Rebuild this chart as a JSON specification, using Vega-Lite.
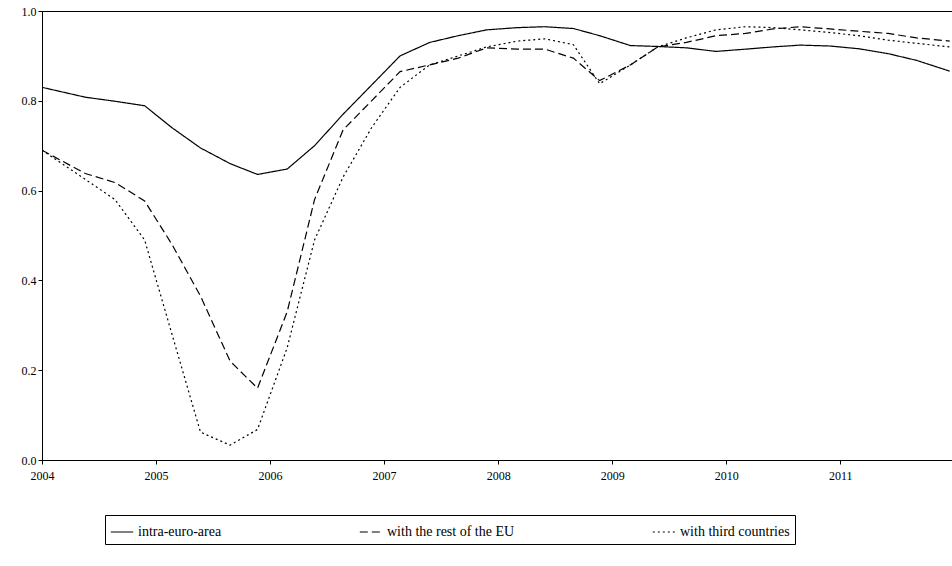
{
  "$schema": "https://vega.github.io/schema/vega-lite/v6.json",
  "width": 910,
  "height": 449,
  "autosize": {"type": "none"},
  "padding": {"left": 42, "top": 11, "right": 0, "bottom": 106},
  "config": {
    "font": "Liberation Serif",
    "view": {"stroke": "black", "strokeWidth": 1},
    "axis": {"labelFont": "Liberation Serif", "labelFontSize": 12, "labelColor": "black", "domainColor": "black", "tickColor": "black", "grid": false, "title": null, "labelFlush": false}
  },
  "datasets": {
    "raw": [
      {"t": 2004.0, "a": 0.83, "b": 0.69, "c": 0.69},
      {"t": 2004.38, "a": 0.808, "b": 0.638, "c": 0.625},
      {"t": 2004.64, "a": 0.799, "b": 0.618, "c": 0.58},
      {"t": 2004.9, "a": 0.789, "b": 0.577, "c": 0.49},
      {"t": 2005.14, "a": 0.74, "b": 0.48, "c": 0.28},
      {"t": 2005.39, "a": 0.695, "b": 0.365, "c": 0.062},
      {"t": 2005.65, "a": 0.66, "b": 0.22, "c": 0.033},
      {"t": 2005.89, "a": 0.636, "b": 0.16, "c": 0.068},
      {"t": 2006.15, "a": 0.648, "b": 0.33, "c": 0.25},
      {"t": 2006.39, "a": 0.70, "b": 0.58, "c": 0.49},
      {"t": 2006.64, "a": 0.77, "b": 0.735, "c": 0.63},
      {"t": 2006.89, "a": 0.835, "b": 0.80, "c": 0.74},
      {"t": 2007.14, "a": 0.90, "b": 0.865, "c": 0.83},
      {"t": 2007.4, "a": 0.93, "b": 0.88, "c": 0.88},
      {"t": 2007.65, "a": 0.945, "b": 0.895, "c": 0.90},
      {"t": 2007.9, "a": 0.958, "b": 0.918, "c": 0.92},
      {"t": 2008.17, "a": 0.963, "b": 0.915, "c": 0.933},
      {"t": 2008.41, "a": 0.965, "b": 0.915, "c": 0.938},
      {"t": 2008.66, "a": 0.961, "b": 0.895, "c": 0.925},
      {"t": 2008.89, "a": 0.945, "b": 0.845, "c": 0.838},
      {"t": 2009.16, "a": 0.923, "b": 0.88, "c": 0.88},
      {"t": 2009.4, "a": 0.921, "b": 0.92, "c": 0.92},
      {"t": 2009.65, "a": 0.918, "b": 0.93, "c": 0.94},
      {"t": 2009.91, "a": 0.91, "b": 0.945, "c": 0.958},
      {"t": 2010.17, "a": 0.915, "b": 0.95, "c": 0.965},
      {"t": 2010.41, "a": 0.92, "b": 0.96, "c": 0.963},
      {"t": 2010.65, "a": 0.924, "b": 0.965, "c": 0.958},
      {"t": 2010.91, "a": 0.922, "b": 0.96, "c": 0.952},
      {"t": 2011.16, "a": 0.916, "b": 0.955, "c": 0.945},
      {"t": 2011.42, "a": 0.905, "b": 0.95, "c": 0.935},
      {"t": 2011.67, "a": 0.89, "b": 0.94, "c": 0.928},
      {"t": 2011.96, "a": 0.866, "b": 0.933, "c": 0.92}
    ]
  },
  "data": {"name": "raw"},
  "transform": [
    {"fold": ["a", "b", "c"], "as": ["key", "value"]},
    {"lookup": "key", "from": {"data": {"values": [
      {"key": "a", "series": "intra-euro-area"},
      {"key": "b", "series": "with the rest of the EU"},
      {"key": "c", "series": "with third countries"}
    ]}, "key": "key", "fields": ["series"]}}
  ],
  "mark": {"type": "line", "color": "black", "strokeWidth": 1.2, "clip": true},
  "encoding": {
    "x": {"field": "t", "type": "quantitative", "scale": {"domain": [2004, 2011.98], "nice": false, "zero": false},
      "axis": {"values": [2004, 2005, 2006, 2007, 2008, 2009, 2010, 2011], "format": "d", "tickSize": 4, "labelPadding": 6}},
    "y": {"field": "value", "type": "quantitative", "scale": {"domain": [0, 1], "nice": false},
      "axis": {"values": [0, 0.2, 0.4, 0.6, 0.8, 1.0], "format": ".1f", "tickSize": 4}},
    "strokeDash": {"field": "series", "type": "nominal",
      "scale": {"domain": ["intra-euro-area", "with the rest of the EU", "with third countries"], "range": [[1, 0], [8, 4], [2, 3]]},
      "legend": {"title": null, "orient": "none", "legendX": 63, "legendY": 504, "direction": "horizontal", "columns": 3,
        "symbolType": "stroke", "symbolStrokeColor": "black", "symbolSize": 500, "symbolStrokeWidth": 1.2, "labelFontSize": 14, "labelColor": "black",
        "labelLimit": 300, "columnPadding": 135, "strokeColor": "black", "padding": 5, "labelFont": "Liberation Serif"}}
  }
}
